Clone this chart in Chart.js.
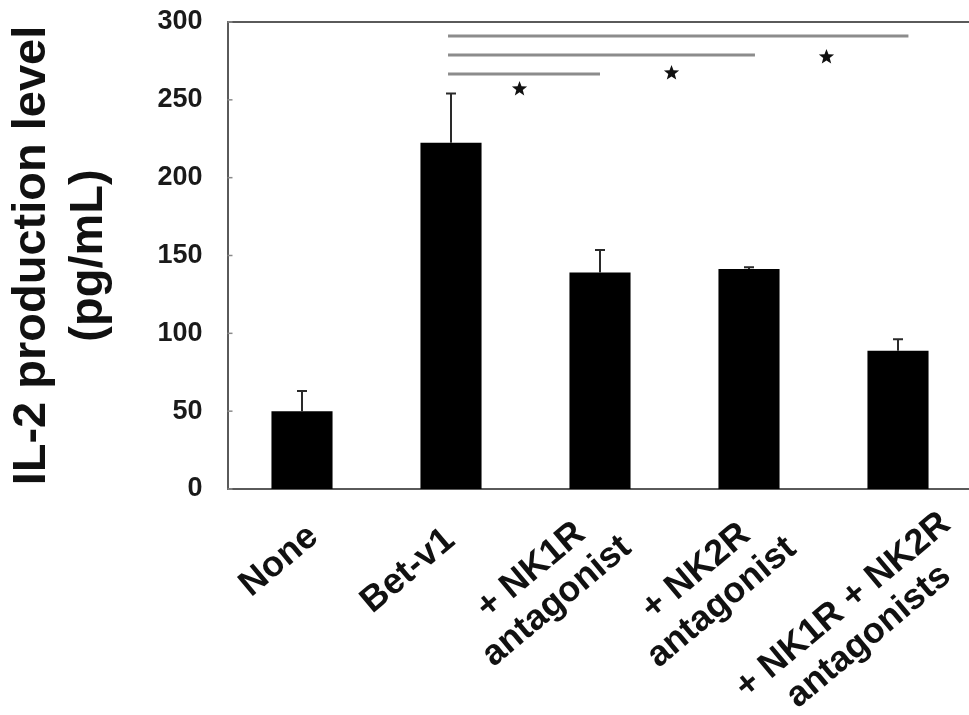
<!DOCTYPE html>
<html><head><meta charset="utf-8">
<script src="https://cdn.jsdelivr.net/npm/chart.js@4"></script>
<style>html,body{margin:0;padding:0;background:#fff;overflow:hidden}#wrap{position:absolute;left:0;top:0;width:975px;height:715px}</style>
</head><body><div id="wrap"><canvas id="c" width="975" height="715"></canvas></div>
<script>
const categories = [['None'], ['Bet-v1'], ['+ NK1R', 'antagonist'], ['+ NK2R', 'antagonist'], ['+ NK1R + NK2R', 'antagonists']];
const values = [50, 222.5, 139, 141.3, 88.8];
const errors = [13, 31.5, 14.5, 1.1, 7.4];
const yTicks = [0, 50, 100, 150, 200, 250, 300];
const sigFrom = [0.98, 0.98, 0.98];
const sigTo = [2.0, 3.04, 4.07];
const sigY = [266.6, 278.8, 291];
const starX = [1.46, 2.48, 3.52];
const starY = [257, 267.2, 277.5];
// label block-centre offsets (px) from each tick / axis line
const labelOffset = [[-23, 72], [-43, 82], [-56, 97], [-40, 98], [-42, 132]];

const FONT = '"Liberation Sans", Arial, Helvetica, sans-serif';

function drawStar(ctx, cx, cy, R, r) {
  ctx.beginPath();
  for (let k = 0; k < 10; k++) {
    const rad = k % 2 === 0 ? R : r;
    const a = -Math.PI / 2 + k * Math.PI / 5;
    const px = cx + rad * Math.cos(a), py = cy + rad * Math.sin(a);
    if (k === 0) ctx.moveTo(px, py); else ctx.lineTo(px, py);
  }
  ctx.closePath();
  ctx.fill();
}

const overlay = {
  id: 'overlay',
  afterDatasetsDraw(chart) {
    const {ctx, chartArea: a, scales: {x, y}} = chart;
    ctx.save();
    ctx.strokeStyle = '#5a5a5a'; ctx.lineWidth = 2;
    ctx.beginPath(); ctx.moveTo(a.left, a.top); ctx.lineTo(a.right, a.top); ctx.stroke();
    ctx.strokeStyle = '#8a8a8a'; ctx.lineWidth = 1.5;
    yTicks.forEach(v => {
      const py = y.getPixelForValue(v);
      ctx.beginPath(); ctx.moveTo(a.left, py); ctx.lineTo(a.left + 5, py); ctx.stroke();
    });
    ctx.strokeStyle = '#2a2a2a'; ctx.lineWidth = 2;
    values.forEach((v, i) => {
      const px = x.getPixelForValue(i);
      const p0 = y.getPixelForValue(v), p1 = y.getPixelForValue(v + errors[i]);
      ctx.beginPath(); ctx.moveTo(px, p0); ctx.lineTo(px, p1);
      ctx.moveTo(px - 5, p1); ctx.lineTo(px + 5, p1); ctx.stroke();
    });
    ctx.strokeStyle = '#8c8c8c'; ctx.lineWidth = 3;
    sigY.forEach((v, i) => {
      const py = y.getPixelForValue(v);
      ctx.beginPath(); ctx.moveTo(x.getPixelForValue(sigFrom[i]), py);
      ctx.lineTo(x.getPixelForValue(sigTo[i]), py); ctx.stroke();
    });
    ctx.fillStyle = '#111';
    starX.forEach((sx, i) => drawStar(ctx, x.getPixelForValue(sx), y.getPixelForValue(starY[i]), 8, 3.4));
    ctx.restore();
  },
  afterDraw(chart) {
    const {ctx, chartArea: a, scales: {x}} = chart;
    ctx.save();
    ctx.font = 'bold 36px ' + FONT;
    ctx.fillStyle = '#111';
    const ang = -40 * Math.PI / 180;
    const qx = -Math.sin(ang), qy = Math.cos(ang);
    const lh = 40;
    chart.data.labels.forEach((lines, i) => {
      const cx = x.getPixelForValue(i) + labelOffset[i][0];
      const cy = a.bottom + labelOffset[i][1];
      const n = lines.length;
      lines.forEach((s, j) => {
        const off = (j - (n - 1) / 2) * lh;
        ctx.save();
        ctx.translate(cx + qx * off, cy + qy * off);
        ctx.rotate(ang);
        ctx.textAlign = 'center'; ctx.textBaseline = 'middle';
        ctx.fillText(s, 0, 0);
        ctx.restore();
      });
    });
    ctx.restore();
  }
};

new Chart(document.getElementById('c'), {
  type: 'bar',
  data: {
    labels: categories,
    datasets: [{
      data: values,
      backgroundColor: '#000',
      borderWidth: 0,
      barPercentage: 0.41,
      categoryPercentage: 1
    }]
  },
  options: {
    responsive: false,
    animation: false,
    devicePixelRatio: 1,
    layout: {padding: {top: 22, right: 2.5, left: 0, bottom: 0}},
    plugins: {legend: {display: false}, tooltip: {enabled: false}},
    scales: {
      x: {
        grid: {display: false},
        border: {display: true, color: '#5a5a5a', width: 2},
        ticks: {display: false},
        afterFit(s) { s.height = 226; s.paddingLeft = 0; s.paddingRight = 0; }
      },
      y: {
        min: 0, max: 300,
        afterBuildTicks(s) { s.ticks = yTicks.map(v => ({value: v})); },
        grid: {display: false},
        border: {display: true, color: '#5a5a5a', width: 2},
        ticks: {
          padding: 17,
          color: '#1a1a1a',
          font: {family: FONT, size: 27, weight: 'bold'}
        },
        title: {
          display: true,
          text: ['IL-2 production level', '(pg/mL)'],
          color: '#111',
          font: {family: FONT, size: 47, weight: 'bold', lineHeight: 1.21},
          padding: {top: 4, bottom: 0}
        },
        afterFit(s) { s.width = 227.5; s.paddingTop = 0; s.paddingBottom = 0; }
      }
    }
  },
  plugins: [overlay]
});
</script>
</body></html>
